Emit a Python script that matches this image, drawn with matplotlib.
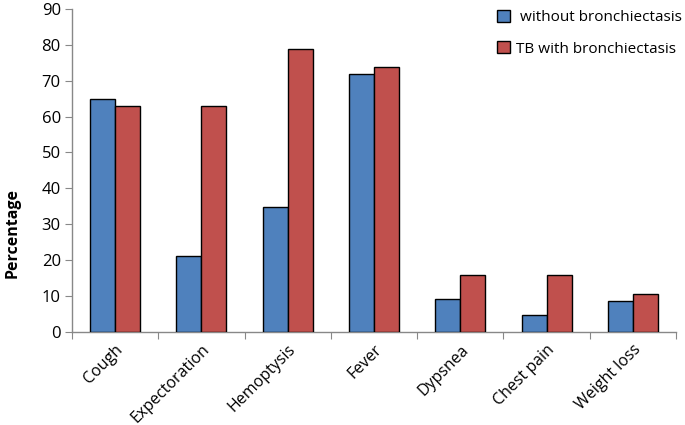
import matplotlib
matplotlib.use("Agg")
import matplotlib.pyplot as plt
import numpy as np
from matplotlib.patches import Patch

categories = ["Cough", "Expectoration", "Hemoptysis", "Fever", "Dypsnea", "Chest pain", "Weight loss"]
without_bronch = [65.0, 21.1, 34.7, 72.0, 9.3, 4.6, 8.5]
with_bronch = [63.0, 63.0, 78.9, 73.7, 15.8, 15.8, 10.5]
series_names = [" without bronchiectasis", "TB with bronchiectasis"]
colors = ["#4F81BD", "#C0504D"]

plt.rcParams['font.family'] = ['Open Sans', 'DejaVu Sans']

fig = plt.figure(figsize=(6.85, 4.25), dpi=100)
ax = fig.add_axes([0.105, 0.219, 0.882, 0.76])

x = np.arange(len(categories))
w = 0.29
ax.bar(x - w/2, without_bronch, w, color=colors[0], edgecolor="black", linewidth=1.0, zorder=3)
ax.bar(x + w/2, with_bronch, w, color=colors[1], edgecolor="black", linewidth=1.0, zorder=3)

ax.set_xlim(-0.5, len(categories) - 0.5)
ax.set_ylim(0, 90)
ax.set_yticks(np.arange(0, 91, 10))
ax.tick_params(axis='y', labelsize=12, length=5, color="#888888", direction="out", pad=3)

ax.set_xticks(np.arange(-0.5, len(categories), 1.0))
ax.set_xticklabels([])
ax.tick_params(axis='x', length=5, color="#888888", direction="out")
ax.set_xticks(x, minor=True)
ax.set_xticklabels(categories, minor=True, rotation=45, ha="right", rotation_mode="anchor", fontsize=11.5)
ax.tick_params(axis='x', which='minor', length=0, pad=7)

for s in ["top", "right"]:
    ax.spines[s].set_visible(False)
for s in ["left", "bottom"]:
    ax.spines[s].set_color("#888888")
    ax.spines[s].set_linewidth(1.0)

ax.set_ylabel("Percentage", fontsize=11.5, fontweight="bold")
ax.yaxis.set_label_coords(-0.085, 0.306)

handles = [Patch(facecolor=colors[i], edgecolor="black", linewidth=1.0) for i in range(2)]
leg = ax.legend(handles, series_names, loc="upper right", bbox_to_anchor=(1.032, 1.04), frameon=False,
                fontsize=11, handlelength=0.85, handleheight=0.85, handletextpad=0.4, labelspacing=1.05)

fig.savefig("out.png", dpi=100)
